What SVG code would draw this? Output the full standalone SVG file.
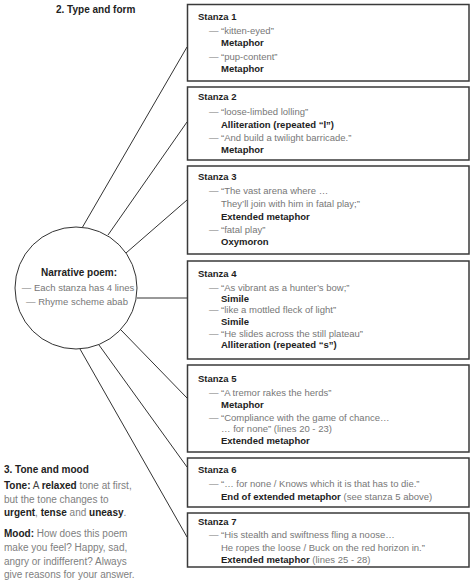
<svg xmlns="http://www.w3.org/2000/svg" width="474" height="584" viewBox="0 0 474 584">
<style>
text{font-family:"Liberation Sans",Arial,Helvetica,sans-serif;}
.h{font-size:10px;font-weight:bold;fill:#222;}
.t{font-size:9.5px;font-weight:bold;fill:#1e1e1e;}
.q{font-size:9.5px;fill:#777;}
.b{font-size:9.5px;font-weight:bold;fill:#222;}
.p{font-size:10px;fill:#808080;}
.pb{font-weight:bold;fill:#222;}
.box{fill:#fff;stroke:#3a3a3a;stroke-width:1.5;}
.con line{stroke:#333;stroke-width:1;}
</style>
<g id="headers">
<text class="h" x="56" y="13">2. Type and form</text>
<text class="h" x="4" y="473">3. Tone and mood</text>
</g>
<g id="connectors" class="con">
<line x1="82" y1="228" x2="187" y2="47"/>
<line x1="108" y1="235" x2="187" y2="122"/>
<line x1="126" y1="253" x2="187" y2="200"/>
<line x1="137" y1="298" x2="187" y2="298"/>
<line x1="121" y1="330" x2="187" y2="398"/>
<line x1="99" y1="345" x2="187" y2="467"/>
<line x1="80" y1="349" x2="187" y2="537"/>
</g>
<g id="center">
<circle cx="76" cy="288" r="61" fill="#fff" stroke="#333" stroke-width="1"/>
<text class="b" x="79" y="276" text-anchor="middle" style="font-size:10px">Narrative poem:</text>
<text class="q" x="78" y="291" text-anchor="middle">— Each stanza has 4 lines</text>
<text class="q" x="77" y="305" text-anchor="middle">— Rhyme scheme abab</text>
</g>
<g id="stanza1">
<rect class="box" x="187.5" y="4.5" width="281.5" height="76.5"/>
<text class="t" x="198" y="19.5">Stanza 1</text>
<text class="q" x="209" y="33.5">—</text><text class="q" x="221" y="33.5">“kitten-eyed”</text>
<text class="b" x="221" y="45.5">Metaphor</text>
<text class="q" x="209" y="59.5">—</text><text class="q" x="221" y="59.5">“pup-content”</text>
<text class="b" x="221" y="71.5">Metaphor</text>
</g>
<g id="stanza2">
<rect class="box" x="187.5" y="87" width="281.5" height="73"/>
<text class="t" x="198" y="99.5">Stanza 2</text>
<text class="q" x="209" y="114.5">—</text><text class="q" x="221" y="114.5">“loose-limbed lolling”</text>
<text class="b" x="221" y="127.5">Alliteration (repeated “l”)</text>
<text class="q" x="209" y="140.5">—</text><text class="q" x="221" y="140.5">“And build a twilight barricade.”</text>
<text class="b" x="221" y="152.5">Metaphor</text>
</g>
<g id="stanza3">
<rect class="box" x="187.5" y="166" width="281.5" height="88"/>
<text class="t" x="198" y="179.5">Stanza 3</text>
<text class="q" x="209" y="193.5">—</text><text class="q" x="221" y="193.5">“The vast arena where …</text>
<text class="q" x="221" y="206.5">They’ll join with him in fatal play;”</text>
<text class="b" x="221" y="219.5">Extended metaphor</text>
<text class="q" x="209" y="232.5">—</text><text class="q" x="221" y="232.5">“fatal play”</text>
<text class="b" x="221" y="244.5">Oxymoron</text>
</g>
<g id="stanza4">
<rect class="box" x="187.5" y="261" width="281.5" height="98"/>
<text class="t" x="198" y="276.5">Stanza 4</text>
<text class="q" x="209" y="290.5">—</text><text class="q" x="221" y="290.5">“As vibrant as a hunter’s bow;”</text>
<text class="b" x="221" y="301.5">Simile</text>
<text class="q" x="209" y="312.5">—</text><text class="q" x="221" y="312.5">“like a mottled fleck of light”</text>
<text class="b" x="221" y="324.5">Simile</text>
<text class="q" x="209" y="336.5">—</text><text class="q" x="221" y="336.5">“He slides across the still plateau”</text>
<text class="b" x="221" y="347.5">Alliteration (repeated “s”)</text>
</g>
<g id="stanza5">
<rect class="box" x="187.5" y="365" width="281.5" height="87"/>
<text class="t" x="198" y="381.5">Stanza 5</text>
<text class="q" x="209" y="395.5">—</text><text class="q" x="221" y="395.5">“A tremor rakes the herds”</text>
<text class="b" x="221" y="407.5">Metaphor</text>
<text class="q" x="209" y="420.5">—</text><text class="q" x="221" y="420.5">“Compliance with the game of chance…</text>
<text class="q" x="221" y="431.5">… for none” (lines 20 - 23)</text>
<text class="b" x="221" y="443.5">Extended metaphor</text>
</g>
<g id="stanza6">
<rect class="box" x="187.5" y="458" width="281.5" height="49"/>
<text class="t" x="198" y="472.5">Stanza 6</text>
<text class="q" x="209" y="486.5">—</text><text class="q" x="221" y="486.5">“… for none / Knows which it is that has to die.”</text>
<text class="b" x="221" y="499.5">End of extended metaphor <tspan class="q" style="font-weight:normal">(see stanza 5 above)</tspan></text>
</g>
<g id="stanza7">
<rect class="box" x="187.5" y="513" width="281.5" height="54"/>
<text class="t" x="198" y="524.5">Stanza 7</text>
<text class="q" x="209" y="537.5">—</text><text class="q" x="221" y="537.5">“His stealth and swiftness fling a noose…</text>
<text class="q" x="221" y="550.5">He ropes the loose / Buck on the red horizon in.”</text>
<text class="b" x="221" y="562.5">Extended metaphor <tspan class="q" style="font-weight:normal">(lines 25 - 28)</tspan></text>
</g>
<g id="tone">
<text class="p" x="4" y="488.5"><tspan class="pb">Tone:</tspan> <tspan fill="#444">A</tspan> <tspan class="pb">relaxed</tspan> tone at first,</text>
<text class="p" x="4" y="502.5">but the tone changes to</text>
<text class="p" x="4" y="515.5"><tspan class="pb">urgent</tspan>, <tspan class="pb">tense</tspan> and <tspan class="pb">uneasy</tspan>.</text>
<text class="p" x="4" y="536.5"><tspan class="pb">Mood:</tspan> How does this poem</text>
<text class="p" x="4" y="550.5">make you feel? Happy, sad,</text>
<text class="p" x="4" y="564.5">angry or indifferent? Always</text>
<text class="p" x="4" y="577.5">give reasons for your answer.</text>
</g>
</svg>
